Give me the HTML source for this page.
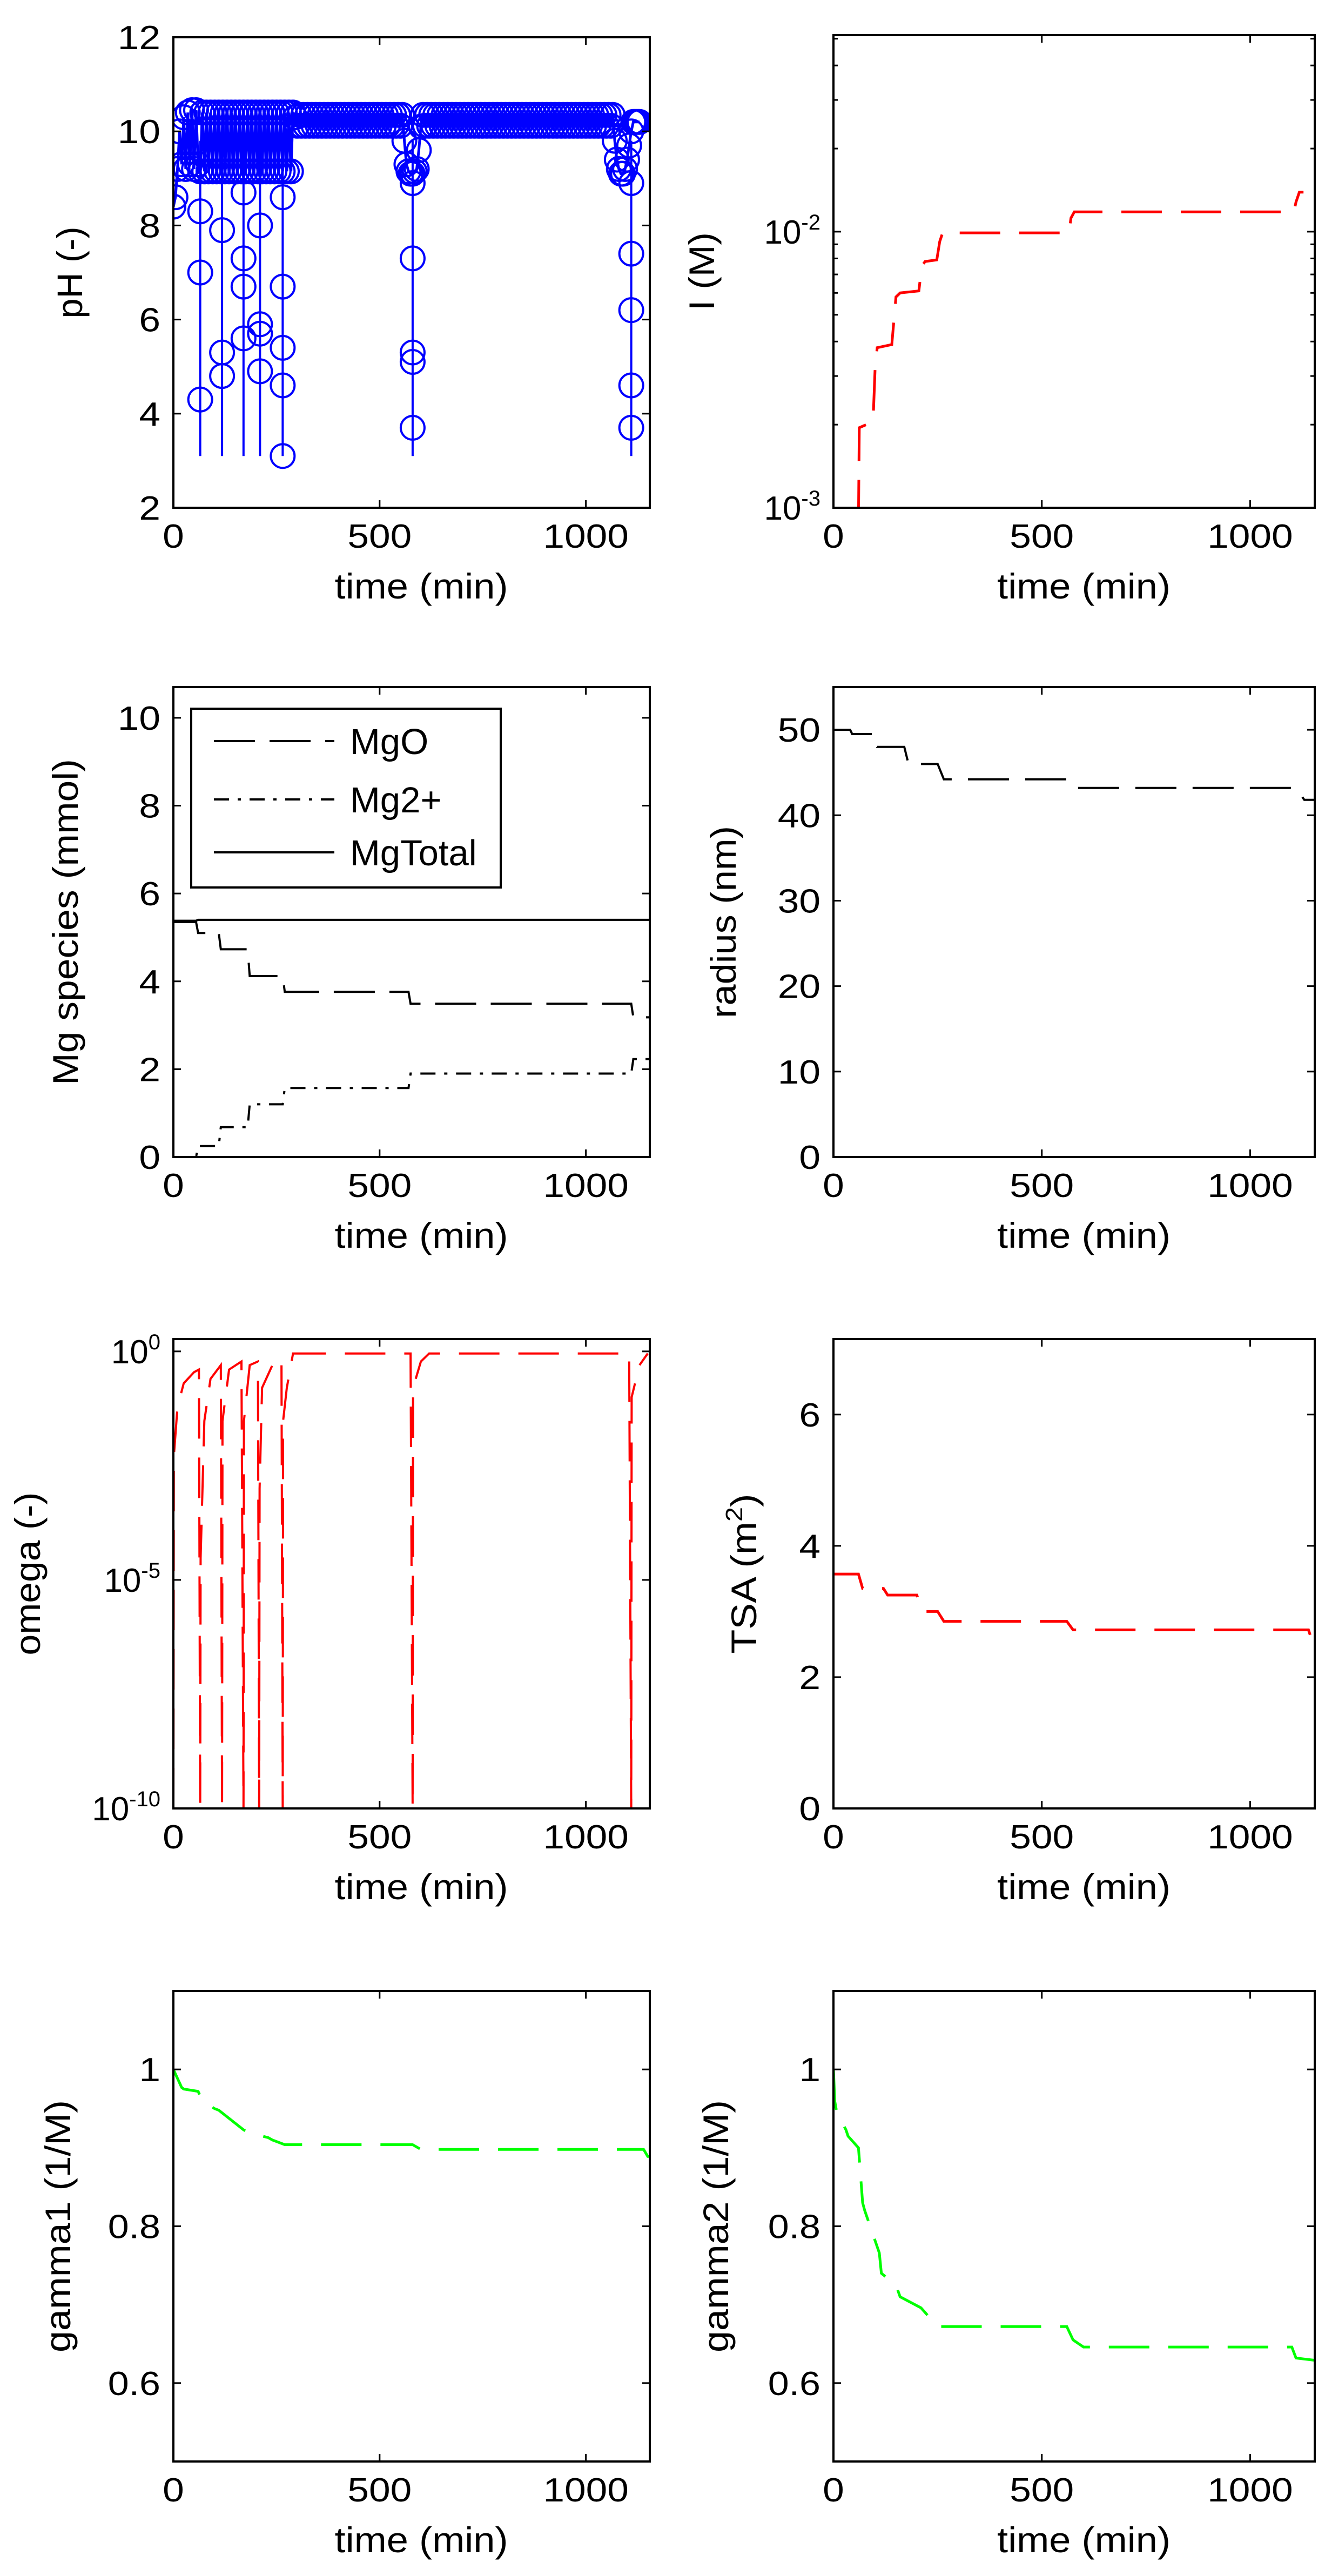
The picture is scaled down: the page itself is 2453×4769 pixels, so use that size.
<!DOCTYPE html>
<html><head><meta charset="utf-8"><title>MgO dissolution simulation</title>
<style>html,body{margin:0;padding:0;background:#fff}svg{display:block}</style></head>
<body>
<svg id="fig" xmlns="http://www.w3.org/2000/svg" width="2453" height="4769" viewBox="0 0 2453 4769" font-family="Liberation Sans, Arial, sans-serif">
<rect width="2453" height="4769" fill="#fff"/>
</svg>
<script>
// ---------- data ----------
const xTicks = [0, 500, 1000];
const xMax = 1155;
// pH band (main trace), 5-min samples
const phTimes = [0,5,10,15,20,25,30,35,40,45,50,55,60,65,70,75,80,85,90,95,100,105,110,115,120,125,130,135,140,145,150,155,160,165,170,175,180,185,190,195,200,205,210,215,220,225,230,235,240,245,250,255,260,265,270,275,280,285,290,295,
300,305,310,315,320,325,330,335,340,345,350,355,360,365,370,375,380,385,390,395,400,405,410,415,420,425,430,435,440,445,450,455,460,465,470,475,480,485,490,495,500,505,510,515,520,525,530,535,540,545,550,555,
560,565,570,575,580,585,590,595,600,
605,610,615,620,625,630,635,640,645,650,655,660,665,670,675,680,685,690,695,700,705,710,715,720,725,730,735,740,745,750,755,760,765,770,775,780,785,790,795,800,805,810,815,820,825,830,835,840,845,850,855,860,865,870,875,880,885,890,895,900,905,910,915,920,925,930,935,940,945,950,955,960,965,970,975,980,985,990,995,1000,1005,1010,1015,1020,1025,1030,1035,1040,1045,1050,1055,1060,1065,1070,1075,1080,1085,
1090,1095,1100,1105,1110,1115,1120,1125,1130,1135,1140,1145,1150];
const phValues = [8.4,8.6,9.2,10.0,9.3,10.3,9.2,10.4,9.3,10.45,9.2,10.45,9.3,
9.15,10.4,9.15,10.4,9.15,10.4,9.15,10.4,9.15,10.4,9.15,10.4,9.15,10.4,9.15,10.4,9.15,10.4,9.15,10.4,9.15,10.4,9.15,10.4,9.15,10.4,9.15,10.4,9.15,10.4,9.15,10.4,9.15,10.4,9.15,10.4,9.15,10.4,9.15,10.4,9.15,10.4,9.15,10.4,9.15,10.4,10.3,
10.12,10.35,10.12,10.35,10.12,10.35,10.12,10.35,10.12,10.35,10.12,10.35,10.12,10.35,10.12,10.35,10.12,10.35,10.12,10.35,10.12,10.35,10.12,10.35,10.12,10.35,10.12,10.35,10.12,10.35,10.12,10.35,10.12,10.35,10.12,10.35,10.12,10.35,10.12,10.35,10.12,10.35,10.12,10.35,10.12,10.35,10.12,10.35,10.12,10.35,10.12,10.35,
9.8,9.3,9.15,9.1,9.1,9.15,9.2,9.6,10.1,
10.35,10.12,10.35,10.12,10.35,10.12,10.35,10.12,10.35,10.12,10.35,10.12,10.35,10.12,10.35,10.12,10.35,10.12,10.35,10.12,10.35,10.12,10.35,10.12,10.35,10.12,10.35,10.12,10.35,10.12,10.35,10.12,10.35,10.12,10.35,10.12,10.35,10.12,10.35,10.12,10.35,10.12,10.35,10.12,10.35,10.12,10.35,10.12,10.35,10.12,10.35,10.12,10.35,10.12,10.35,10.12,10.35,10.12,10.35,10.12,10.35,10.12,10.35,10.12,10.35,10.12,10.35,10.12,10.35,10.12,10.35,10.12,10.35,10.12,10.35,10.12,10.35,10.12,10.35,10.12,10.35,10.12,10.35,10.12,10.35,10.12,10.35,10.12,10.35,10.12,10.35,10.12,10.35,
9.8,9.4,9.2,9.1,9.1,9.2,9.4,9.7,10.0,10.2,10.2,10.2,10.2];
// pH excursions at addition events
const phEventTimes = [65,118,170,210,265,580,1110];
const phEventMin = [3.1,3.1,3.1,3.1,3.1,3.1,3.1];
const phEventMarks = [[8.3,7.0,4.3],[7.9,5.3,4.8],[8.7,7.3,6.7,5.6],[8.0,5.9,5.7,4.9],[8.6,6.7,5.4,4.6,3.1],[7.3,5.3,5.1,3.7,8.9],[8.9,7.4,6.2,4.6,3.7]];
// ionic strength
const iTimes = [60,62,95,100,105,140,150,160,205,212,220,248,255,262,565,570,578,1105,1110,1118,1128];
const iValues = [0.0009,0.00195,0.00205,0.0032,0.0038,0.0039,0.0058,0.006,0.0061,0.0075,0.0078,0.0079,0.0092,0.0099,0.0099,0.0112,0.0118,0.0118,0.0128,0.0139,0.0139];
// Mg species
const mgTimes = [0,55,60,110,115,180,185,265,270,570,575,1110,1115,1155];
const mgOValues = [5.35,5.35,5.1,5.1,4.73,4.73,4.12,4.12,3.76,3.76,3.49,3.49,3.18,3.18];
const mg2Values = [0,0,0.25,0.25,0.68,0.68,1.2,1.2,1.57,1.57,1.9,1.9,2.23,2.23];
const mgTotalValues = [5.38,5.38,5.4,5.4,5.4,5.4,5.4,5.4,5.4,5.4,5.4,5.4,5.4,5.4];
// radius
const rTimes = [0,40,45,100,105,170,180,250,265,560,575,1110,1130,1155];
const rValues = [50,50,49.5,49.5,48,48,46,46,44.2,44.2,43.2,43.2,41.8,41.8];
// omega (saturation)
const omTimes = [0,1,10,25,50,62,65,66,75,90,115,118,119,135,165,170,171,185,205,208,209,215,240,262,265,266,275,290,575,580,581,600,620,1105,1110,1111,1130,1150];
const omValues = [1e-10,5e-3,6e-2,2e-1,3.5e-1,4e-1,1e-10,3e-5,3e-2,2.5e-1,5e-1,1e-10,3e-2,4e-1,6e-1,1e-10,3e-2,5e-1,6e-1,1e-10,1e-3,1.6e-1,5e-1,7e-1,1e-10,3e-2,1.6e-1,0.9,0.9,1e-10,1.6e-1,6e-1,0.9,0.9,1e-10,1e-1,5e-1,0.9];
// total surface area
const tsaTimes = [0,60,70,120,130,200,215,250,265,560,575,1140,1150,1155];
const tsaValues = [3.57,3.57,3.35,3.35,3.25,3.25,3.0,3.0,2.85,2.85,2.72,2.72,2.53,2.53];
// activity coefficients
const g1Times = [0,20,25,60,70,100,110,170,180,230,240,270,580,600,1140,1150,1155];
const g1Values = [1.0,0.977,0.975,0.972,0.96,0.95,0.948,0.923,0.92,0.913,0.91,0.904,0.904,0.898,0.898,0.889,0.889];
const g2Times = [0,3,8,30,35,60,70,75,110,115,150,160,210,220,250,560,575,600,1100,1110,1155];
const g2Values = [1.0,0.96,0.945,0.923,0.915,0.9,0.83,0.82,0.766,0.74,0.725,0.71,0.696,0.69,0.672,0.672,0.655,0.646,0.646,0.632,0.629];

// ---------- helpers ----------
const NS = "http://www.w3.org/2000/svg";
const svg = document.getElementById('fig');
function mk(tag, attrs, parent){ const e=document.createElementNS(NS,tag); for(const k in attrs) e.setAttribute(k,attrs[k]); (parent||svg).appendChild(e); return e; }

function makeAxes(cfg){
  const g = mk('g',{});
  
  
  const X0=cfg.x0,X1=cfg.x1,Y0=cfg.y0,Y1=cfg.y1;
  const sx = t => X0 + t/xMax*(X1-X0);
  const sy = cfg.log ? v => Y1 - (Math.log10(v)-cfg.ymin)/(cfg.ymax-cfg.ymin)*(Y1-Y0)
                     : v => Y1 - (v-cfg.ymin)/(cfg.ymax-cfg.ymin)*(Y1-Y0);
  const cid = 'clip-'+cfg.name;
  const cp = mk('clipPath',{id:cid},g); mk('rect',{x:X0,y:Y0,width:X1-X0,height:Y1-Y0},cp);
  const plot = mk('g',{'clip-path':'url(#'+cid+')'},g);
  
  
  xTicks.forEach(t=>{
    const x=sx(t);
    mk('line',{x1:x,y1:Y1,x2:x,y2:Y1-14,stroke:'#000','stroke-width':3},g);
    mk('line',{x1:x,y1:Y0,x2:x,y2:Y0+14,stroke:'#000','stroke-width':3},g);
    const tx = mk('text',{x:x,y:Y1+74,'font-size':62,'text-anchor':'middle',fill:'#000',textLength:String(t).length*0.556*62*1.15,lengthAdjust:'spacingAndGlyphs'},g);
    tx.textContent = t;
    
    
  });
  cfg.yTicks.forEach((v,i)=>{
    const y = cfg.log ? Y1 - (v-cfg.ymin)/(cfg.ymax-cfg.ymin)*(Y1-Y0) : sy(v);
    mk('line',{x1:X0,y1:y,x2:X0+14,y2:y,stroke:'#000','stroke-width':3},g);
    mk('line',{x1:X1,y1:y,x2:X1-14,y2:y,stroke:'#000','stroke-width':3},g);
    const lab = cfg.yLabels[i];
    const tx = mk('text',{x:X0-24,y:y+22,'font-size':62,'text-anchor':'end',fill:'#000'},g);
    
    
    if(cfg.log){
      const b=mk('tspan',{},tx); b.textContent='10';
      const s=mk('tspan',{dy:-26,'font-size':40},tx); s.textContent=lab;
    } else {
      tx.setAttribute('textLength', String(lab).replace('.','').length*0.556*62*1.15 + (String(lab).includes('.')?18:0));
      tx.setAttribute('lengthAdjust','spacingAndGlyphs');
      tx.textContent = lab;
    }
  });
  if(cfg.log && !cfg.noMinor){
    for(let d=Math.floor(cfg.ymin); d<cfg.ymax; d++){
      for(let m=2;m<10;m++){
        const lv=d+Math.log10(m); if(lv<=cfg.ymin||lv>=cfg.ymax) continue;
        const y=Y1-(lv-cfg.ymin)/(cfg.ymax-cfg.ymin)*(Y1-Y0);
        mk('line',{x1:X0,y1:y,x2:X0+8,y2:y,stroke:'#000','stroke-width':3},g);
        mk('line',{x1:X1,y1:y,x2:X1-8,y2:y,stroke:'#000','stroke-width':3},g);
      }
    }
  }
  const box = mk('rect',{x:X0,y:Y0,width:X1-X0,height:Y1-Y0,fill:'none',stroke:'#000','stroke-width':4},g);
  
  
  const xl = mk('text',{x:(X0+X1)/2+18,y:Y1+168,'font-size':66,'text-anchor':'middle',fill:'#000',textLength:321,lengthAdjust:'spacingAndGlyphs'},g);
  xl.textContent='time (min)';
  
  
  const yl = mk('text',{x:0,y:0,'font-size':66,'text-anchor':'middle',fill:'#000',transform:'translate('+(cfg.ylx+22)+','+((Y0+Y1)/2)+') rotate(-90)',textLength:cfg.ylLen,lengthAdjust:'spacingAndGlyphs'},g);
  
  
  if(cfg.ylSup){
    const a=mk('tspan',{},yl); a.textContent=cfg.ylabel;
    const s=mk('tspan',{dy:-26,'font-size':44},yl); s.textContent=cfg.ylSup;
    const c=mk('tspan',{dy:26},yl); c.textContent=')';
  } else yl.textContent=cfg.ylabel;
  return {sx,sy,plot,g};
}
function line(ax, ts, vs, color, dash, name, w){
  const pts = ts.map((t,i)=>ax.sx(t).toFixed(1)+','+ax.sy(vs[i]).toFixed(1)).join(' ');
  const p = mk('polyline',{points:pts,fill:'none',stroke:color,'stroke-width':w||5,'stroke-dasharray':dash||'none','stroke-linejoin':'miter'},ax.plot);
  
  
  return p;
}

// ---------- layout ----------
const L = {x0:321,x1:1203}, R = {x0:1543,x1:2434};
const rows = [[69,940],[1272,2142],[2479,3348],[3686,4557]];

// pH
const a1 = makeAxes({name:'ph-axes',x0:L.x0,x1:L.x1,y0:rows[0][0],y1:rows[0][1],ymin:2,ymax:12,yTicks:[2,4,6,8,10,12],yLabels:['2','4','6','8','10','12'],ylabel:'pH (-)',ylx:130,ylLen:170});
line(a1, phTimes, phValues, '#0000ff', null, 'ph-series', 5);
phTimes.forEach((t,i)=>{
  const c = mk('circle',{cx:a1.sx(t),cy:a1.sy(phValues[i]),r:22,fill:'none',stroke:'#0000ff','stroke-width':4},a1.plot);
  
  
});
phEventTimes.forEach((t,i)=>{
  const l = mk('line',{x1:a1.sx(t),y1:a1.sy(9.8),x2:a1.sx(t),y2:a1.sy(phEventMin[i]),stroke:'#0000ff','stroke-width':4},a1.plot);
  
  
  phEventMarks[i].forEach(v=>{
    const c = mk('circle',{cx:a1.sx(t),cy:a1.sy(v),r:22,fill:'none',stroke:'#0000ff','stroke-width':4},a1.plot);
    
    
  });
});

// I
const a2 = makeAxes({name:'ionic-strength-axes',x0:R.x0,x1:R.x1,y0:65,y1:rows[0][1],ymin:-3,ymax:-1.288,log:true,yTicks:[-3,-2],yLabels:['-3','-2'],ylabel:'I (M)',ylx:1300,ylLen:145});
line(a2, iTimes, iValues, '#ff0000', '75 35', 'ionic-strength-series', 5);

// Mg species
const a3 = makeAxes({name:'mg-species-axes',x0:L.x0,x1:L.x1,y0:rows[1][0],y1:rows[1][1],ymin:0,ymax:10.7,yTicks:[0,2,4,6,8,10],yLabels:['0','2','4','6','8','10'],ylabel:'Mg species (mmol)',ylx:122,ylLen:604});
line(a3, mgTimes, mgOValues, '#000', '76 27', 'mgo-series', 4);
line(a3, mgTimes, mg2Values, '#000', '28 16 6 16', 'mg2-series', 4);
line(a3, mgTimes, mgTotalValues, '#000', null, 'mgtotal-series', 4);
const lg = mk('g',{});  
mk('rect',{x:354,y:1312,width:573,height:331,fill:'#fff',stroke:'#000','stroke-width':4},lg);
[['MgO','76 27',1372],['Mg2+','28 16 6 16',1480],['MgTotal','none',1578]].forEach(e=>{
  const ent = mk('g',{},lg);  
  mk('line',{x1:396,y1:e[2],x2:619,y2:e[2],stroke:'#000','stroke-width':4,'stroke-dasharray':e[1]},ent);
  const t=mk('text',{x:648,y:e[2]+24,'font-size':67,fill:'#000'},ent); t.textContent=e[0];
});

// radius
const a4 = makeAxes({name:'radius-axes',x0:R.x0,x1:R.x1,y0:rows[1][0],y1:rows[1][1],ymin:0,ymax:55,yTicks:[0,10,20,30,40,50],yLabels:['0','10','20','30','40','50'],ylabel:'radius (nm)',ylx:1340,ylLen:356});
line(a4, rTimes, rValues, '#000', '76 30', 'radius-series', 4);

// omega
const a5 = makeAxes({name:'omega-axes',x0:L.x0,x1:L.x1,y0:rows[2][0],y1:rows[2][1],ymin:-10,ymax:0.27,log:true,noMinor:true,yTicks:[-10,-5,0],yLabels:['-10','-5','0'],ylabel:'omega (-)',ylx:52,ylLen:302});
line(a5, omTimes, omValues, '#ff0000', '75 35', 'omega-series', 4);

// TSA
const a6 = makeAxes({name:'tsa-axes',x0:R.x0,x1:R.x1,y0:rows[2][0],y1:rows[2][1],ymin:0,ymax:7.15,yTicks:[0,2,4,6],yLabels:['0','2','4','6'],ylabel:'TSA (m',ylSup:'2',ylx:1378,ylLen:296});
line(a6, tsaTimes, tsaValues, '#ff0000', '75 35', 'tsa-series', 5);

// gamma1, gamma2
const a7 = makeAxes({name:'gamma1-axes',x0:L.x0,x1:L.x1,y0:rows[3][0],y1:rows[3][1],ymin:0.5,ymax:1.1,yTicks:[0.6,0.8,1],yLabels:['0.6','0.8','1'],ylabel:'gamma1 (1/M)',ylx:108,ylLen:467});
line(a7, g1Times, g1Values, '#00ff00', '75 35', 'gamma1-series', 5);
const a8 = makeAxes({name:'gamma2-axes',x0:R.x0,x1:R.x1,y0:rows[3][0],y1:rows[3][1],ymin:0.5,ymax:1.1,yTicks:[0.6,0.8,1],yLabels:['0.6','0.8','1'],ylabel:'gamma2 (1/M)',ylx:1326,ylLen:467});
line(a8, g2Times, g2Values, '#00ff00', '75 35', 'gamma2-series', 5);
</script>
</body></html>
